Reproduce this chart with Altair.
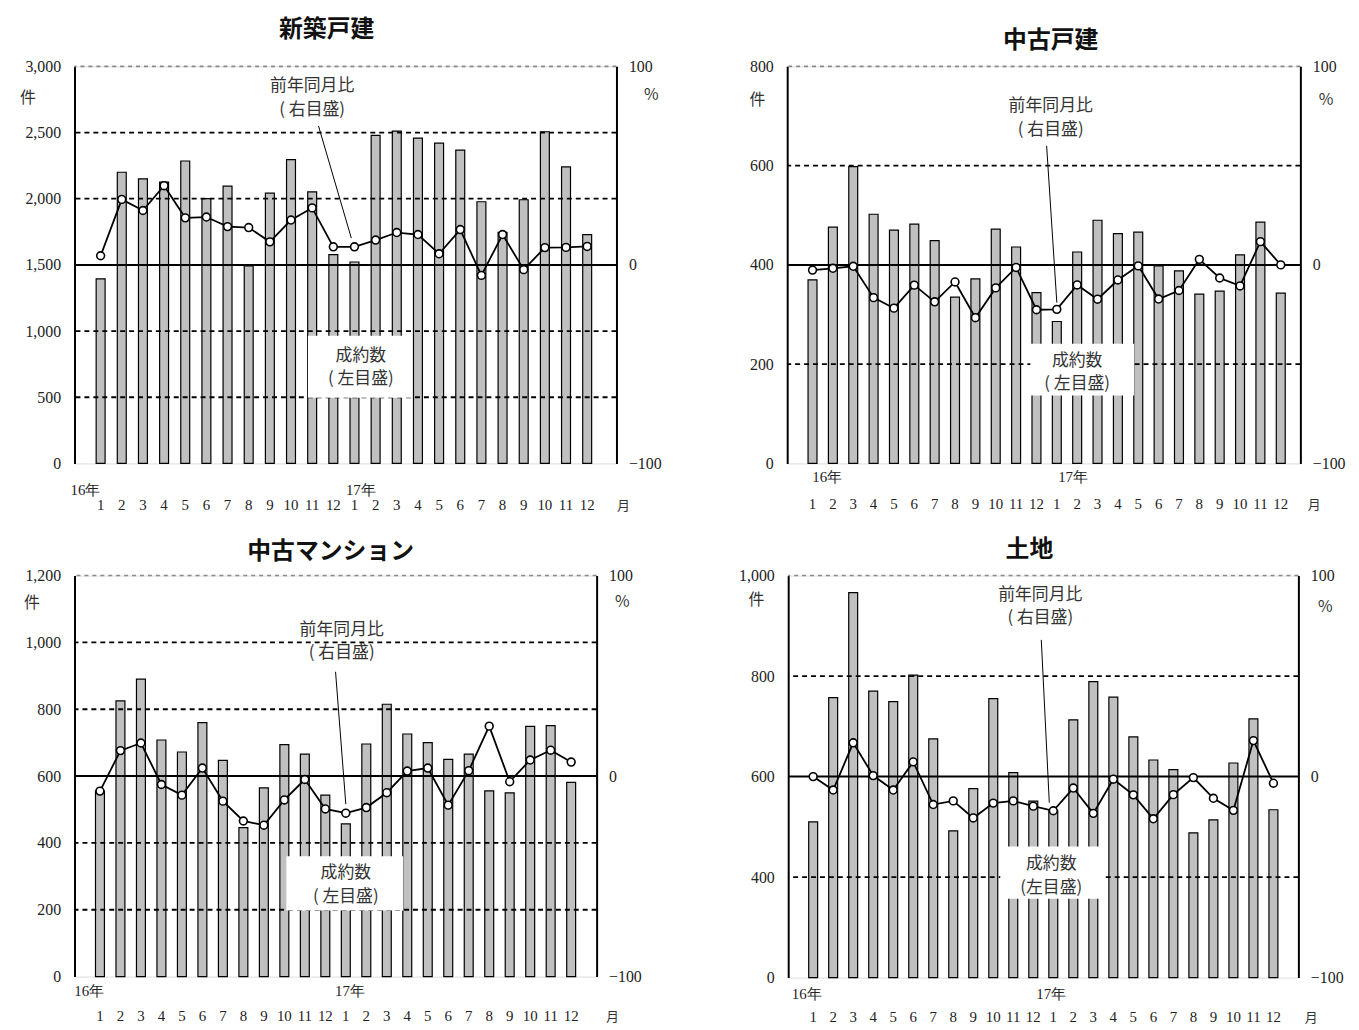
import altair as alt
import pandas as pd

# ---------------- data ----------------
month_nums = [str(m) for m in range(1, 13)] * 2          # 16年1月 .. 17年12月
year_labels = ["16年", "17年"]

# 新築戸建
shinchiku_count = [1395, 2200, 2150, 2125, 2285, 2000, 2095, 1492, 2042, 2295, 2052, 1577,
                   1522, 2478, 2511, 2458, 2420, 2367, 1977, 1745, 1992, 2506, 2240, 1728]
shinchiku_pct = [4.6, 33.0, 27.4, 39.9, 23.7, 24.1, 19.3, 18.8, 11.6, 22.6, 28.7, 9.1,
                 9.1, 12.5, 16.3, 15.3, 5.6, 17.8, -5.3, 15.3, -2.4, 8.7, 8.8, 9.3]

# 中古戸建
chuko_count = [370, 476, 598, 502, 470, 482, 449, 335, 372, 472, 436, 344,
               286, 426, 490, 463, 466, 398, 388, 341, 347, 420, 486, 343]
chuko_pct = [-2.6, -1.7, -0.7, -16.5, -21.8, -10.2, -18.6, -8.6, -26.6, -11.6, -1.3, -22.6,
             -22.4, -10.1, -17.3, -7.6, -0.5, -17.2, -12.9, 2.8, -6.6, -10.6, 11.7, 0.0]

# 中古マンション
mansion_count = [555, 825, 890, 708, 672, 760, 647, 446, 565, 694, 666, 543,
                 457, 696, 815, 726, 700, 650, 666, 556, 550, 749, 751, 581]
mansion_pct = [-7.5, 12.7, 16.5, -4.2, -9.5, 4.0, -12.5, -22.4, -24.5, -11.9, -1.7, -16.4,
               -18.5, -15.7, -8.3, 2.5, 4.0, -14.5, 2.7, 24.9, -2.8, 8.0, 12.9, 7.0]

# 土地
tochi_count = [510, 757, 966, 770, 749, 802, 675, 492, 576, 755, 608, 551,
               532, 713, 789, 758, 679, 633, 614, 488, 514, 627, 715, 534]
tochi_pct = [0.0, -6.7, 16.8, 0.5, -6.7, 7.3, -13.9, -12.1, -20.6, -13.2, -12.1, -14.7,
             -17.0, -5.7, -18.3, -1.3, -9.1, -21.0, -9.0, -0.5, -10.8, -16.8, 17.9, -3.3]

SERIF = "Liberation Serif"
JP = "Noto Sans CJK JP"
PCT_DOM = [-100, 100]


def unit_text(t, px, py, fs):
    return alt.Chart(pd.DataFrame({"t": [t]})).mark_text(
        font=JP, fontSize=fs, color="#333", align="center", baseline="middle").encode(
        x=alt.value(px), y=alt.value(py), text="t:N")


def panel(title, counts, pct, c):
    n = len(counts)
    W, H = c["w"], c["h"]
    df = pd.DataFrame({"pos": list(range(n)), "month": month_nums, "count": counts, "pct": pct})
    xs = alt.Scale(domain=c["xdom"], nice=False, zero=False)
    ys = alt.Scale(domain=c["ydom"], nice=False, zero=False)
    ps = alt.Scale(domain=PCT_DOM, nice=False, zero=False)

    x_axis = alt.Axis(values=list(range(n)), labels=False, grid=False, ticks=False, tickSize=0,
                      domainColor="black", domainWidth=2, title=None)
    x_main = alt.X("pos:Q", scale=xs, axis=x_axis)

    left_axis = alt.Axis(values=c["yticks"], labelExpr=c["ylabel"], grid=False, ticks=False,
                         tickSize=0, domainColor="black", domainWidth=2, labelPadding=14,
                         labelFont=SERIF, labelFontSize=16, labelColor="#222", title=None)
    right_axis = alt.Axis(orient="right", values=[-100, 0, 100], grid=False, ticks=False,
                          tickSize=0, domainColor="black", domainWidth=2, labelPadding=12,
                          labelFont=SERIF, labelFontSize=16, labelColor="#222", title=None)

    bars = alt.Chart(df).mark_bar(width=9, fill="#c0c0c0", stroke="black", strokeWidth=1.2).encode(
        x=x_main,
        y=alt.Y("count:Q", scale=ys, axis=left_axis),
        y2=alt.datum(c["ydom"][0]),
    )

    grid = alt.Chart(pd.DataFrame({"v": c["dashed"]})).mark_rule(
        color="black", strokeDash=[5, 4], strokeWidth=1.8).encode(
        y=alt.Y("v:Q", scale=ys, axis=None))
    top = alt.Chart(pd.DataFrame({"v": [c["ydom"][1]]})).mark_rule(
        color="#8a8a8a", strokeDash=[4, 4], strokeWidth=1.6).encode(
        y=alt.Y("v:Q", scale=ys, axis=None))
    zero = alt.Chart(pd.DataFrame({"v": [0]})).mark_rule(color="black", strokeWidth=2).encode(
        y=alt.Y("v:Q", scale=ps, axis=None))

    cl = c["count_label"]
    box = alt.Chart(pd.DataFrame({"x1": [cl["bx"][0]], "x2": [cl["bx"][1]],
                                  "y1": [cl["by"][0]], "y2": [cl["by"][1]]})).mark_rect(
        fill="white").encode(
        x=alt.X("x1:Q", scale=xs, axis=None), x2="x2:Q",
        y=alt.Y("y1:Q", scale=ys, axis=None), y2="y2:Q")
    ctext = alt.Chart(pd.DataFrame({"x": [cl["x"]], "y": [cl["y"]], "t": [cl["text"]]})).mark_text(
        font=JP, fontSize=17, lineBreak="\n", lineHeight=24, color="#333",
        align="center", baseline="middle").encode(
        x=alt.X("x:Q", scale=xs, axis=None), y=alt.Y("y:Q", scale=ys, axis=None), text="t:N")

    yl = c["yoy_label"]
    ytext = alt.Chart(pd.DataFrame({"x": [yl["x"]], "y": [yl["y"]],
                                    "t": ["前年同月比\n( 右目盛)"]})).mark_text(
        font=JP, fontSize=17, lineBreak="\n", lineHeight=24, color="#333",
        align="center", baseline="middle").encode(
        x=alt.X("x:Q", scale=xs, axis=None), y=alt.Y("y:Q", scale=ps, axis=None), text="t:N")
    ld = c["leader"]
    leader = alt.Chart(pd.DataFrame({"x1": [ld[0]], "y1": [ld[1]], "x2": [ld[2]], "y2": [ld[3]]})).mark_rule(
        color="black", strokeWidth=1).encode(
        x=alt.X("x1:Q", scale=xs, axis=None), x2="x2:Q",
        y=alt.Y("y1:Q", scale=ps, axis=None), y2="y2:Q")

    line = alt.Chart(df).mark_line(color="black", strokeWidth=1.8).encode(
        x=alt.X("pos:Q", scale=xs, axis=None),
        y=alt.Y("pct:Q", scale=ps, axis=right_axis))
    pts = alt.Chart(df).mark_point(filled=True, fill="white", stroke="black", strokeWidth=1.6,
                                   size=62, opacity=1).encode(
        x=alt.X("pos:Q", scale=xs, axis=None),
        y=alt.Y("pct:Q", scale=ps, axis=None))

    mlabels = alt.Chart(df).mark_text(
        font=SERIF, fontSize=15, color="#222", align="center", baseline="middle").encode(
        x=alt.X("pos:Q", scale=xs, axis=None), y=alt.value(H + c["mdy"]), text="month:N")

    years = alt.Chart(pd.DataFrame({"x": c["year_x"], "t": year_labels})).mark_text(
        font=SERIF, fontSize=15, color="#222", align="center", baseline="middle").encode(
        x=alt.X("x:Q", scale=xs, axis=None), y=alt.value(H + c["year_dy"]), text="t:N")

    ken = unit_text("件", c["ken"][0], c["ken"][1], 16)
    pc = unit_text("%", W + c["pc"][0], c["pc"][1], 16)
    tsuki = unit_text("月", W + c["tsuki"][0], H + c["mdy"] + 1, 13)

    return alt.layer(bars, grid, top, zero, box, ctext, leader, ytext, line, pts, mlabels, years,
                     ken, pc, tsuki).properties(
        width=W, height=H,
        title=alt.TitleParams(title, font=JP, fontSize=24, fontWeight="bold", color="#111",
                              anchor="middle", frame="group", offset=c["toff"], dx=c["tdx"]),
    ).resolve_scale(y="independent")


std_label = "format(datum.value, ',')"

p1 = panel("新築戸建", shinchiku_count, shinchiku_pct, dict(
    w=546, h=400, xdom=[-1.0, 24.15], ydom=[0, 3000], yticks=[0, 500, 1000, 1500, 2000, 2500, 3000],
    ylabel=std_label, dashed=[500, 1000, 2000, 2500], mdy=42,
    count_label=dict(x=12.3, y=814, text="成約数\n( 左目盛)", bx=[9.8, 14.7], by=[497, 965]),
    yoy_label=dict(x=10.0, y=90), leader=[10.3, 70, 11.85, 13.5],
    year_x=[-0.72, 12.3], year_dy=27, ken=[-47, 32], pc=[35, 29], tsuki=[7],
    toff=17, tdx=-19))

p2 = panel("中古戸建", chuko_count, chuko_pct, dict(
    w=517, h=400, xdom=[-1.0, 23.72], ydom=[0, 800], yticks=[0, 200, 400, 600, 800],
    ylabel=std_label, dashed=[200, 600], mdy=41,
    count_label=dict(x=13.0, y=207, text="成約数\n( 左目盛)", bx=[10.7, 15.8], by=[137, 241]),
    yoy_label=dict(x=11.7, y=80), leader=[11.5, 60, 12.0, -19],
    year_x=[0.72, 12.8], year_dy=14, ken=[-30, 34], pc=[26, 34], tsuki=[14],
    toff=6, tdx=7))

p3 = panel("中古マンション", mansion_count, mansion_pct, dict(
    w=526, h=404, xdom=[-1.0, 24.0], ydom=[0, 1200], yticks=[0, 200, 400, 600, 800, 1000, 1200],
    ylabel=std_label, dashed=[200, 400, 800, 1000], mdy=40,
    count_label=dict(x=12.0, y=309, text="成約数\n( 左目盛)", bx=[9.1, 14.8], by=[198, 360]),
    yoy_label=dict(x=11.8, y=73), leader=[11.5, 52, 12.0, -14],
    year_x=[-0.52, 12.2], year_dy=15, ken=[-43, 28], pc=[26, 27], tsuki=[16],
    toff=4, tdx=-5))

p4 = panel("土地", tochi_count, tochi_pct, dict(
    w=514, h=405, xdom=[-1.0, 24.0], ydom=[200, 1000], yticks=[200, 400, 600, 800, 1000],
    ylabel="datum.value == 200 ? '0' : format(datum.value, ',')", dashed=[400, 800], mdy=40,
    count_label=dict(x=11.9, y=425, text="成約数\n(左目盛)", bx=[9.35, 14.5], by=[357, 461]),
    yoy_label=dict(x=11.35, y=90.5), leader=[11.4, 68, 11.8, -13],
    year_x=[-0.32, 11.9], year_dy=17, ken=[-32, 25], pc=[27, 32], tsuki=[13],
    toff=6, tdx=-14))

row1 = alt.hconcat(p1, p2, spacing=87)
row2 = alt.hconcat(p3, p4, spacing=96)
chart = alt.vconcat(row1, row2, spacing=23).properties(
    padding={"left": 11, "top": 5, "right": 5, "bottom": 0}
).configure_view(stroke=None).configure(background="white")

chart.save("out.html", embed_options={"renderer": "svg", "actions": False})
